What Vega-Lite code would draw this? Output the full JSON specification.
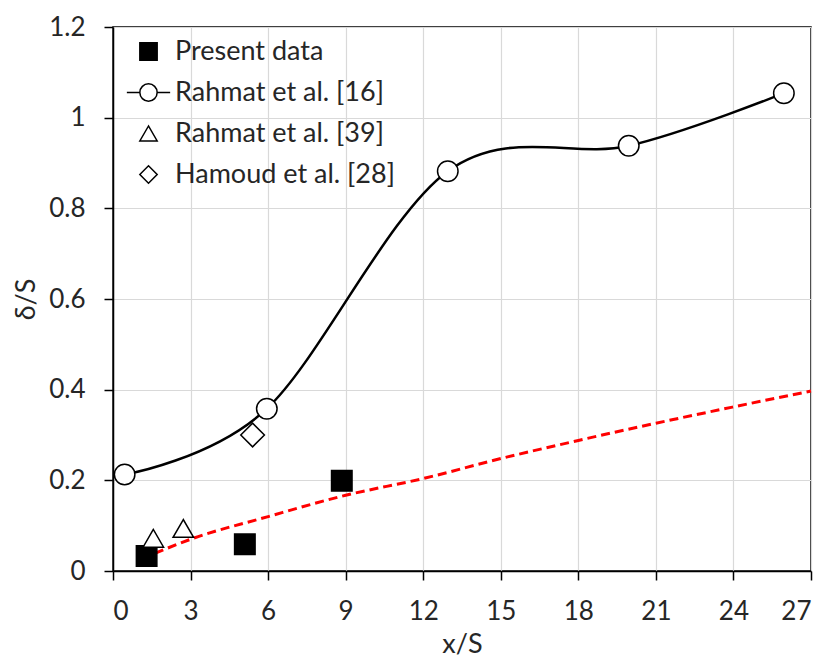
{
  "$schema": "https://vega.github.io/schema/vega-lite/v6.json",
  "width": 698,
  "height": 544,
  "autosize": {"type": "none"},
  "padding": {"left": 113, "top": 27, "right": 16, "bottom": 86},
  "background": "white",
  "config": {
    "font": "Lato",
    "view": {"stroke": "black", "strokeWidth": 1.5},
    "axis": {
      "gridColor": "#d9d9d9",
      "gridWidth": 1.2,
      "domainColor": "black",
      "domainWidth": 1.5,
      "tickColor": "black",
      "tickWidth": 1.5,
      "tickSize": 9,
      "labelFont": "Lato",
      "labelFontSize": 26,
      "labelColor": "#262626",
      "titleFont": "Lato",
      "titleFontSize": 27,
      "titleFontWeight": "normal",
      "titleColor": "#262626"
    }
  },
  "datasets": {
    "pts": [
      {"series": "Present data", "x": 1.3, "y": 0.033},
      {"series": "Present data", "x": 5.1, "y": 0.059},
      {"series": "Present data", "x": 8.85, "y": 0.199},
      {"series": "Rahmat et al. [16]", "x": 0.45, "y": 0.213},
      {"series": "Rahmat et al. [16]", "x": 5.95, "y": 0.358},
      {"series": "Rahmat et al. [16]", "x": 12.95, "y": 0.882},
      {"series": "Rahmat et al. [16]", "x": 19.95, "y": 0.938},
      {"series": "Rahmat et al. [16]", "x": 25.95, "y": 1.054},
      {"series": "Rahmat et al. [39]", "x": 1.56, "y": 0.072},
      {"series": "Rahmat et al. [39]", "x": 2.72, "y": 0.094},
      {"series": "Hamoud et al. [28]", "x": 5.4, "y": 0.3}
    ],
    "fit": [
      {"x": 1.62, "y": 0.039},
      {"x": 3, "y": 0.07},
      {"x": 6, "y": 0.12},
      {"x": 9, "y": 0.167},
      {"x": 12, "y": 0.204},
      {"x": 15, "y": 0.248},
      {"x": 18, "y": 0.288},
      {"x": 21, "y": 0.326},
      {"x": 24, "y": 0.362},
      {"x": 27, "y": 0.397}
    ]
  },
  "layer": [
    {
      "data": {"name": "fit"},
      "mark": {"type": "line", "color": "#ff0000", "strokeWidth": 3, "strokeDash": [9, 5], "interpolate": "monotone"},
      "encoding": {
        "x": {
          "field": "x", "type": "quantitative",
          "scale": {"domain": [0, 27], "nice": false},
          "axis": {"values": [0, 3, 6, 9, 12, 15, 18, 21, 24, 27], "title": "x/S", "labelPadding": 18, "titlePadding": 7}
        },
        "y": {
          "field": "y", "type": "quantitative",
          "scale": {"domain": [0, 1.2], "nice": false},
          "axis": {"values": [0, 0.2, 0.4, 0.6, 0.8, 1, 1.2], "format": "~g", "title": "δ/S", "labelPadding": 19, "titlePadding": 8}
        }
      }
    },
    {
      "data": {"name": "pts"},
      "transform": [{"filter": "datum.series === 'Rahmat et al. [16]'"}],
      "mark": {"type": "line", "color": "black", "strokeWidth": 2.5, "interpolate": "cardinal"},
      "encoding": {
        "x": {"field": "x", "type": "quantitative"},
        "y": {"field": "y", "type": "quantitative"}
      }
    },
    {
      "data": {"name": "pts"},
      "transform": [{"filter": "datum.series === 'Rahmat et al. [16]'"}],
      "mark": {"type": "point", "shape": "circle", "filled": true, "fill": "white", "stroke": "black", "strokeWidth": 1.5, "opacity": 1, "size": 420},
      "encoding": {
        "x": {"field": "x", "type": "quantitative"},
        "y": {"field": "y", "type": "quantitative"}
      }
    },
    {
      "data": {"name": "pts"},
      "transform": [{"filter": "datum.series !== 'Rahmat et al. [16]'"}],
      "mark": {"type": "point", "filled": true, "stroke": "black", "strokeWidth": 1.5, "opacity": 1},
      "encoding": {
        "x": {"field": "x", "type": "quantitative"},
        "y": {"field": "y", "type": "quantitative"},
        "size": {
          "condition": {"test": "datum.series === 'Hamoud et al. [28]'", "value": 560},
          "value": 420
        },
        "shape": {
          "field": "series", "type": "nominal",
          "scale": {
            "domain": ["Present data", "Rahmat et al. [16]", "Rahmat et al. [39]", "Hamoud et al. [28]"],
            "range": ["square", "M-2.5,0H-1M1,0H2.5M1,0A1,1,0,1,1,-1,0A1,1,0,1,1,1,0", "triangle-up", "diamond"]
          },
          "legend": {
            "title": null,
            "orient": "none",
            "legendX": 22,
            "legendY": 11,
            "symbolSize": 300,
            "symbolStrokeWidth": 1.5,
            "labelFont": "Lato",
            "labelFontSize": 27,
            "labelColor": "#262626",
            "labelLimit": 400,
            "labelOffset": 13,
            "rowPadding": 13,
            "padding": 0,
            "encode": {
              "symbols": {
                "size": {"value": {"expr": "datum.value === 'Hamoud et al. [28]' ? 210 : (datum.value === 'Rahmat et al. [39]' ? 270 : 300)"}},
                "fill": {"value": {"expr": "datum.value === 'Present data' ? 'black' : 'white'"}},
                "stroke": {"value": "black"},
                "strokeWidth": {"value": {"expr": "datum.value === 'Rahmat et al. [16]' ? 2.2 : 1.5"}},
                "opacity": {"value": 1}
              }
            }
          }
        },
        "fill": {
          "field": "series", "type": "nominal",
          "scale": {
            "domain": ["Present data", "Rahmat et al. [16]", "Rahmat et al. [39]", "Hamoud et al. [28]"],
            "range": ["black", "white", "white", "white"]
          },
          "legend": null
        }
      }
    }
  ]
}
